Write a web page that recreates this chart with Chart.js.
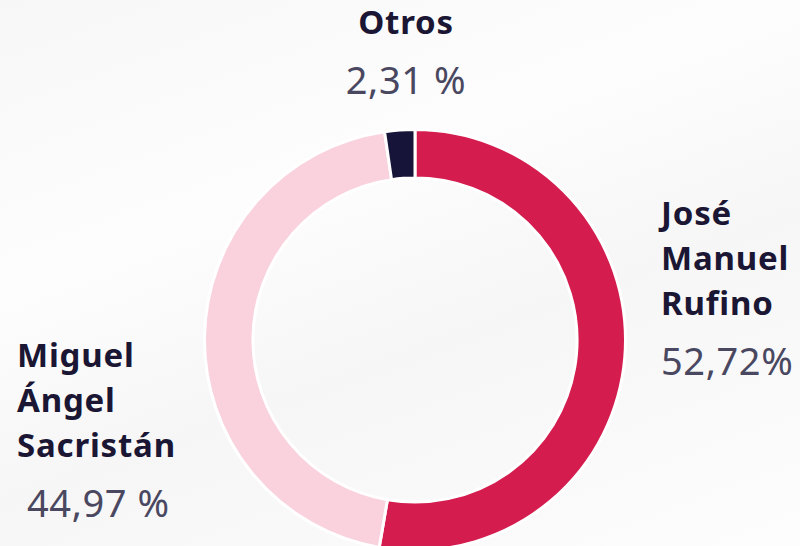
<!DOCTYPE html>
<html>
<head>
<meta charset="utf-8">
<script src="https://cdn.jsdelivr.net/npm/chart.js@4/dist/chart.umd.min.js"></script>
<style>
    html, body {
        margin: 0;
        padding: 0;
        width: 800px;
        height: 546px;
        overflow: hidden;
        background: linear-gradient(160deg, #f7f7f8 0%, #fdfdfd 35%, #f6f6f7 60%, #fdfdfd 100%);
        font-family: "Noto Sans", sans-serif;
    }
    #chart-wrap {
        position: absolute;
        left: 203px;
        top: 128px;
        width: 424px;
        height: 424px;
    }
    .label {
        position: absolute;
        color: #1a1633;
    }
    .label .name {
        font-weight: 700;
        font-size: 33px;
        letter-spacing: 0.8px;
        line-height: 45px;
    }
    .label .pct {
        color: #4a4860;
        font-size: 38px;
        letter-spacing: 0.6px;
        line-height: 46px;
        margin-top: 12px;
    }
</style>
</head>
<body>
<div id="chart-wrap"><canvas id="vote-chart" width="424" height="424"></canvas></div>
<div id="labels"></div>

<script>
const candidates = ['José Manuel Rufino', 'Miguel Ángel Sacristán', 'Otros'];
const nameLines = [['José', 'Manuel', 'Rufino'], ['Miguel', 'Ángel', 'Sacristán'], ['Otros']];
const percents = [52.72, 44.97, 2.31];
const percentText = ['52,72%', '44,97 %', '2,31 %'];
const sliceColors = ['#d51c4f', '#f9d2dd', '#17143a'];

// where each label block sits, and how it is aligned
const labelSpots = [
    { left: 661, top: 190, align: 'left' },
    { left: 17, top: 332, align: 'left', pctIndent: 10 },
    { left: 326, top: -1, align: 'center', width: 160 }
];

function createLabels() {
    let holder = document.getElementById('labels');
    for(let i = 0; i < candidates.length; i++) {
        let spot = labelSpots[i];
        let box = document.createElement('div');
        box.className = 'label';
        box.style.left = spot.left + 'px';
        box.style.top = spot.top + 'px';
        box.style.textAlign = spot.align;
        if(spot.width) box.style.width = spot.width + 'px';

        let name = document.createElement('div');
        name.className = 'name';
        name.innerHTML = nameLines[i].join('<br>');
        box.appendChild(name);

        let pct = document.createElement('div');
        pct.className = 'pct';
        pct.innerText = percentText[i];
        if(spot.pctIndent) pct.style.paddingLeft = spot.pctIndent + 'px';
        box.appendChild(pct);

        holder.appendChild(box);
    }
}

function createChart() {
    let ctx = document.getElementById('vote-chart').getContext('2d');
    new Chart(ctx, {
        type: 'doughnut',
        data: {
            labels: candidates,
            datasets: [{
                data: percents,
                backgroundColor: sliceColors,
                borderColor: '#ffffff',
                borderWidth: 3
            }]
        },
        options: {
            responsive: false,
            animation: false,
            cutout: '77%',
            layout: { padding: 0 },
            plugins: {
                legend: { display: false },
                tooltip: { enabled: false }
            }
        }
    });
}

createLabels();
createChart();
</script>
</body>
</html>
